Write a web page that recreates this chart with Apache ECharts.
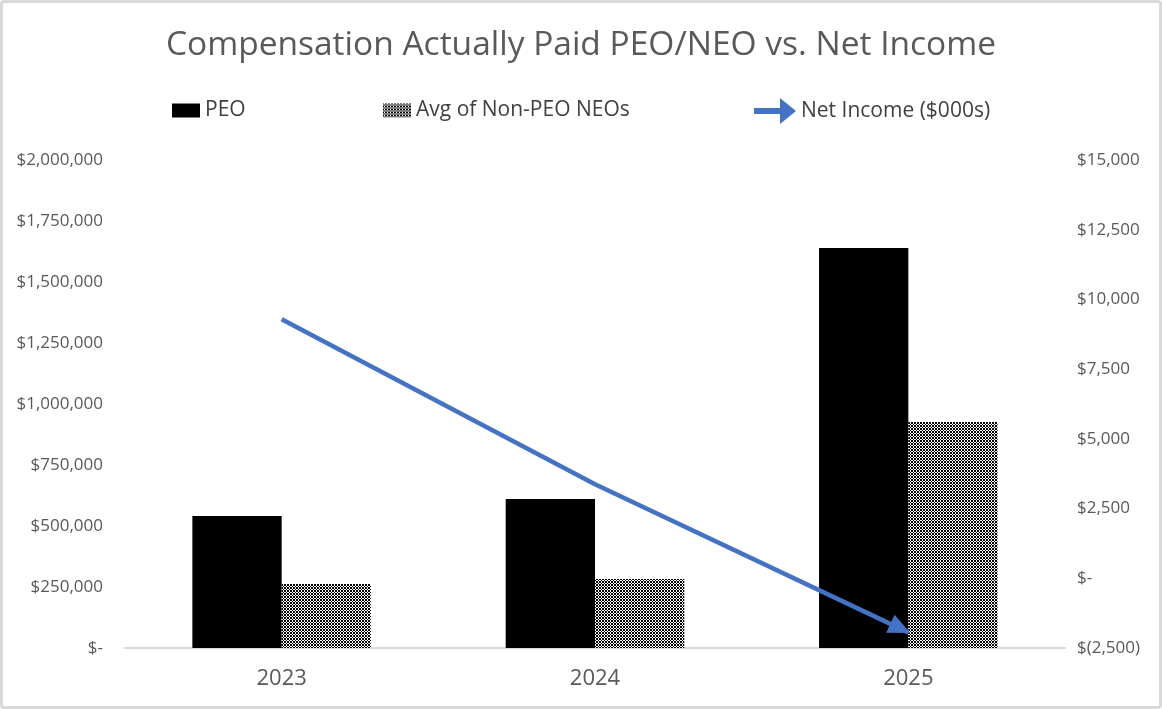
<!DOCTYPE html>
<html>
<head>
<meta charset="utf-8">
<script src="https://cdn.jsdelivr.net/npm/echarts@6/dist/echarts.min.js"></script>
<style>
  body { margin: 0; background: #fff; }
  #wrap { position: relative; width: 1162px; height: 709px; }
  #chart { position: absolute; left: 0; top: 0; width: 1162px; height: 709px; }
  #frame { position: absolute; left: 0; top: 0; width: 1162px; height: 709px; box-sizing: border-box;
           border: 3px solid #d9d9d9; border-radius: 4px; pointer-events: none; }
</style>
</head>
<body>
<div id="wrap">
  <div id="chart"></div>
  <div id="frame"></div>
</div>
<script>
// data
var years = ['2023', '2024', '2025'];
var peoValues = [541000, 611000, 1639000];
var neoValues = [262000, 283000, 926000];
var netIncome = [9290, 3370, -1940];
var leftTicks = [0, 2000000, 250000];   // min, max, step
var rightTicks = [-2500, 15000, 2500];

var FONT = 'Open Sans';

// checker pattern for the Non-PEO bars
var pat = document.createElement('canvas');
pat.width = 3; pat.height = 3;
var pctx = pat.getContext('2d');
pctx.fillStyle = '#fff';
pctx.fillRect(0, 0, 3, 3);
pctx.fillStyle = '#000';
pctx.fillRect(0, 0, 1, 1);
pctx.fillRect(2, 0, 1, 1);
pctx.fillRect(1, 1, 1, 1);
pctx.fillRect(0, 2, 1, 1);
pctx.fillRect(2, 2, 1, 1);

function money(v) {
    if (v === 0) return '$-';
    var s = Math.abs(v).toString().replace(/\B(?=(\d{3})+(?!\d))/g, ',');
    return v < 0 ? '$(' + s + ')' : '$' + s;
}

var chartDom = document.getElementById('chart');
var myChart = echarts.init(chartDom);
var lastIdx = netIncome.length - 1;

var legendText = { color: '#404040', fontSize: 21, fontFamily: FONT };

var option = {
    backgroundColor: '#fff',
    animation: false,
    title: {
        text: 'Compensation Actually Paid PEO/NEO vs. Net Income',
        left: 'center',
        top: 23,
        textStyle: { color: '#595959', fontSize: 33.5, fontWeight: 'normal', fontFamily: FONT }
    },
    legend: [{
        left: 172, top: 100, padding: 0,
        itemWidth: 28, itemHeight: 14,
        data: [{ name: 'PEO', icon: 'rect' }],
        textStyle: legendText
    }, {
        left: 383, top: 100, padding: 0,
        itemWidth: 28, itemHeight: 14,
        data: [{ name: 'Avg of Non-PEO NEOs', icon: 'rect' }],
        textStyle: legendText
    }, {
        left: 754, top: 98, padding: 0,
        itemWidth: 42, itemHeight: 26,
        data: [{ name: 'Net Income ($000s)', icon: 'path://M0,10 L26,10 L26,0 L42,13 L26,26 L26,16 L0,16 Z' }],
        textStyle: legendText
    }],
    grid: { left: 125, right: 97, top: 160, bottom: 61 },
    xAxis: {
        type: 'category',
        data: years,
        axisLine: { lineStyle: { color: '#d9d9d9', width: 2 } },
        axisTick: { show: false },
        axisLabel: { color: '#595959', fontSize: 22, fontFamily: FONT, margin: 20 }
    },
    yAxis: [{
        type: 'value',
        min: leftTicks[0], max: leftTicks[1], interval: leftTicks[2],
        splitLine: { show: false },
        axisLine: { show: false },
        axisTick: { show: false },
        axisLabel: { color: '#595959', fontSize: 17, fontFamily: FONT, margin: 22, formatter: money }
    }, {
        type: 'value',
        min: rightTicks[0], max: rightTicks[1], interval: rightTicks[2],
        splitLine: { show: false },
        axisLine: { show: false },
        axisTick: { show: false },
        axisLabel: { color: '#595959', fontSize: 17, fontFamily: FONT, margin: 12, formatter: money }
    }],
    series: [{
        name: 'PEO',
        type: 'bar',
        data: peoValues,
        barGap: '0%',
        barCategoryGap: '43%',
        itemStyle: { color: '#000' }
    }, {
        name: 'Avg of Non-PEO NEOs',
        type: 'bar',
        data: neoValues,
        itemStyle: { color: { image: pat, repeat: 'repeat' } }
    }, {
        name: 'Net Income ($000s)',
        type: 'line',
        yAxisIndex: 1,
        data: netIncome,
        lineStyle: { color: '#4472C4', width: 4.5 },
        itemStyle: { color: '#4472C4' },
        symbol: function (value, params) {
            return params.dataIndex === lastIdx ? 'triangle' : 'none';
        },
        symbolSize: [20, 22],
        symbolRotate: -115,
        symbolOffset: [-8, -4],
        showAllSymbol: true,
        z: 5
    }]
};
myChart.setOption(option);
</script>
</body>
</html>
